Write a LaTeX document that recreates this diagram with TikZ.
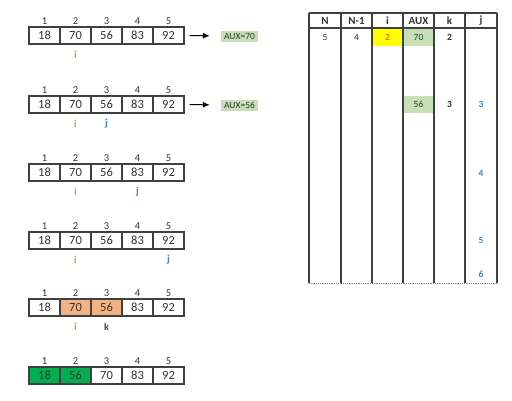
\documentclass[tikz,border=0pt]{standalone}
\usepackage{fontspec}
\setmainfont{Carlito}
\usetikzlibrary{arrows.meta}
\definecolor{ln}{HTML}{404040}
\definecolor{txt}{HTML}{333333}
\definecolor{iorange}{HTML}{F08A50}
\definecolor{jblue}{HTML}{2E86D0}
\definecolor{lgreen}{HTML}{C5E0B4}
\definecolor{dgreen}{HTML}{00B050}
\definecolor{lorange}{HTML}{F4B183}
\definecolor{yel}{HTML}{FFFF00}
\newcommand\arrrow[3]{%
  \foreach \v/\f [count=\c] in {#3} {
    \node[cellbox, fill=\f] (#1c\c) at ({13.5+31*\c}, {#2+8.5}) {\v};
    \node[idx] (#1n\c) at ({13.5+31*\c}, {#2-5.5}) {\c};
  }}
\begin{document}
\begin{tikzpicture}[x=1pt,y=-1pt,
  cellbox/.style={draw=ln, line width=1.1pt, minimum width=31pt, minimum height=17pt,
    inner sep=0pt, text=txt, font=\fontsize{12.5}{13}\selectfont},
  idx/.style={inner sep=0pt, text=txt, font=\fontsize{10.5}{11}\selectfont},
  ilab/.style={inner sep=0pt, text=iorange, font=\bfseries\fontsize{10.5}{11}\selectfont},
  jlab/.style={inner sep=0pt, text=jblue, font=\bfseries\fontsize{10.5}{11}\selectfont},
  klab/.style={inner sep=0pt, text=ln, font=\bfseries\fontsize{10}{11}\selectfont},
  auxbox/.style={fill=lgreen, minimum width=37pt, minimum height=11pt, inner sep=0pt,
    text=txt, font=\fontsize{9.5}{10}\selectfont},
  arr/.style={-{Latex[length=7pt,width=6pt]}, line width=1pt, black},
  thead/.style={inner sep=0pt, text=txt, font=\bfseries\fontsize{11}{12}\selectfont},
  tval/.style={inner sep=0pt, text=txt, font=\fontsize{9.5}{10}\selectfont},
  tbold/.style={tval, font=\bfseries\fontsize{9.5}{10}\selectfont},
  tline/.style={draw=ln, line width=1.2pt}
]
\useasboundingbox (0,0) rectangle (512,400);
\fill[white] (0,0) rectangle (512,400);

% ---- array rows ----
\arrrow{ra}{27}{18/white,70/white,56/white,83/white,92/white}
\arrrow{rb}{96}{18/white,70/white,56/white,83/white,92/white}
\arrrow{rc}{164}{18/white,70/white,56/white,83/white,92/white}
\arrrow{rd}{232}{18/white,70/white,56/white,83/white,92/white}
\arrrow{re}{299}{18/white,70/lorange,56/lorange,83/white,92/white}
\arrrow{rf}{367}{18/dgreen,56/dgreen,70/white,83/white,92/white}

% pointer labels
\node[ilab] (ai) at (75.5,55) {i};
\node[ilab] (bi) at (75.5,124) {i};
\node[jlab] (bj) at (106.5,124) {j};
\node[ilab] (ci) at (75.5,192) {i};
\node[jlab] (cj) at (137.5,192) {j};
\node[ilab] (di) at (75.5,260) {i};
\node[jlab] (dj) at (168.5,260) {j};
\node[ilab] (ei) at (75.5,327) {i};
\node[klab] (ek) at (106.5,327) {k};

% AUX boxes and arrows
\node[auxbox] (auxa) at (239.5,36) {AUX=70};
\node[auxbox] (auxb) at (239.5,105) {AUX=56};
\draw[arr, shorten <=5pt, shorten >=11pt] (rac5.east) -- (auxa.west);
\draw[arr, shorten <=5pt, shorten >=11pt] (rbc5.east) -- (auxb.west);

% ---- table ----
\fill[yel] (372,28) rectangle (403,46);
\fill[lgreen] (403,28) rectangle (434,46);
\fill[lgreen] (403,96) rectangle (434,113);
\foreach \x in {309,341,372,403,434,465,497} {
  \draw[tline] (\x,13) -- (\x,283);
}
\draw[tline] (309,13) -- (497,13);
\draw[tline] (309,28) -- (497,28);
\draw[gray, line width=0.8pt, densely dotted] (309,283) -- (497,283);

\node[thead] (hN) at (325,20.5) {N};
\node[thead] (hN1) at (356.5,20.5) {N-1};
\node[thead] (hi) at (387.5,20.5) {i};
\node[thead] (hA) at (418.5,20.5) {AUX};
\node[thead] (hk) at (449.5,20.5) {k};
\node[thead] (hj) at (481,20.5) {j};

\node[tval] (v1) at (325,37.5) {5};
\node[tval] (v2) at (356.5,37.5) {4};
\node[tbold, text=orange!90!red] (v3) at (387.5,37.5) {2};
\node[tval] (v4) at (418.5,37.5) {70};
\node[tbold] (v5) at (449.5,37.5) {2};
\node[tval] (v6) at (418.5,104.5) {56};
\node[tbold] (v7) at (449.5,104.5) {3};
\node[tbold, text=jblue] (j3) at (481,104.5) {3};
\node[tbold, text=jblue] (j4) at (481,173) {4};
\node[tbold, text=jblue] (j5) at (481,240) {5};
\node[tbold, text=jblue] (j6) at (481,274) {6};
\end{tikzpicture}
\end{document}
